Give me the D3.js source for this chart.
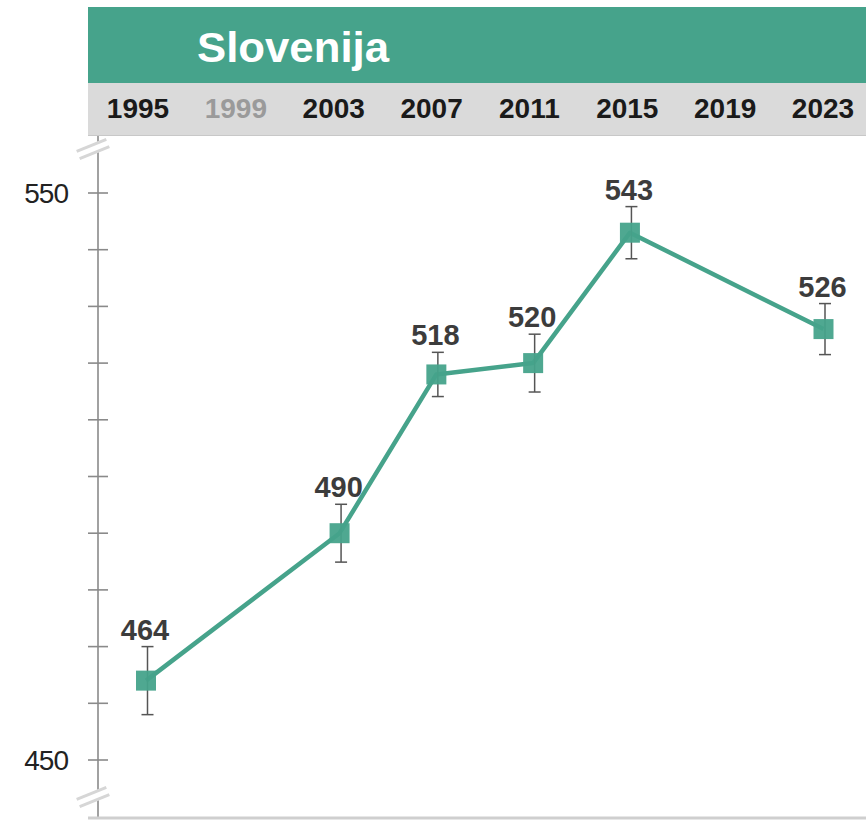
<!DOCTYPE html>
<html>
<head>
<meta charset="utf-8">
<script src="https://cdn.jsdelivr.net/npm/d3@7"></script>
<style>
  html, body { margin: 0; padding: 0; background: #fff; }
  svg { display: block; }
</style>
</head>
<body>
<script>
// ---- data ----
const title = "Slovenija";
const headerYears = [1995, 1999, 2003, 2007, 2011, 2015, 2019, 2023];
const mutedYears = [1999];
const years = [1995, 2003, 2007, 2011, 2015, 2023];
const scores = [464, 490, 518, 520, 543, 526];
const errors = [6.0, 5.1, 3.9, 5.1, 4.6, 4.5];
const yTickValues = [450, 460, 470, 480, 490, 500, 510, 520, 530, 540, 550];
const yTickLabels = [450, 550];

const W = 866, H = 820;
const green = "#46a38b";

const svg = d3.select("body").append("svg")
  .attr("width", W).attr("height", H)
  .style("font-family", "'Liberation Sans', Arial, sans-serif");

// scales
const x = d3.scaleLinear().domain([1995, 2023]).range([146, 823.5]);
const xHeader = d3.scaleLinear().domain([1995, 2023]).range([138, 823]);
const y = d3.scaleLinear().domain([450, 550]).range([760, 193]);

// header bands
svg.append("rect").attr("x", 88).attr("y", 7).attr("width", W - 88).attr("height", 76).attr("fill", green);
svg.append("rect").attr("x", 88).attr("y", 83).attr("width", W - 88).attr("height", 53).attr("fill", "#dadada");
svg.append("line").attr("x1", 88).attr("x2", W).attr("y1", 135.5).attr("y2", 135.5)
  .attr("stroke", "#c8c8c8").attr("stroke-width", 1);

svg.append("text").attr("x", 197).attr("y", 62)
  .attr("fill", "#fff").attr("font-weight", "bold").attr("font-size", 43)
  .attr("textLength", 192).attr("lengthAdjust", "spacingAndGlyphs")
  .text(title);

svg.append("g").selectAll("text").data(headerYears).join("text")
  .attr("x", d => xHeader(d)).attr("y", 118)
  .attr("text-anchor", "middle")
  .attr("font-weight", "bold").attr("font-size", 28)
  .attr("fill", d => mutedYears.includes(d) ? "#9a9a9a" : "#1a1a1a")
  .text(d => d);

// y axis
const axisG = svg.append("g").attr("transform", "translate(98,0)");
axisG.append("line").attr("x1", 0).attr("x2", 0).attr("y1", 136).attr("y2", 818)
  .attr("stroke", "#8a8a8a").attr("stroke-width", 1.6);
axisG.selectAll("line.tick").data(yTickValues).join("line").attr("class", "tick")
  .attr("x1", -10).attr("x2", 10)
  .attr("y1", d => y(d)).attr("y2", d => y(d))
  .attr("stroke", "#8a8a8a").attr("stroke-width", 1.6);
axisG.selectAll("text").data(yTickLabels).join("text")
  .attr("x", -30).attr("y", d => y(d)).attr("dy", "0.35em")
  .attr("text-anchor", "end").attr("font-size", 28).attr("fill", "#222")
  .attr("letter-spacing", -1)
  .text(d => d);

// bottom line
svg.append("line").attr("x1", 88).attr("x2", W).attr("y1", 818).attr("y2", 818)
  .attr("stroke", "#cfcfcf").attr("stroke-width", 3);

// axis break marks
function breakMark(cy) {
  const g = svg.append("g").attr("transform", `translate(93,${cy}) rotate(-22)`);
  g.append("rect").attr("x", -16).attr("y", -5).attr("width", 32).attr("height", 10)
    .attr("fill", "#fff");
  g.append("line").attr("x1", -16).attr("x2", 16).attr("y1", -4).attr("y2", -4)
    .attr("stroke", "#d6d6d6").attr("stroke-width", 3);
  g.append("line").attr("x1", -16).attr("x2", 16).attr("y1", 4).attr("y2", 4)
    .attr("stroke", "#d6d6d6").attr("stroke-width", 3);
}
breakMark(149);
breakMark(797);

const data = years.map((yr, i) => ({ year: yr, score: scores[i], err: errors[i] }));

// line
svg.append("path").datum(data)
  .attr("fill", "none").attr("stroke", green).attr("stroke-width", 4.5)
  .attr("stroke-linejoin", "round")
  .attr("d", d3.line().x(d => x(d.year)).y(d => y(d.score)));

// error bars
const eb = svg.append("g").attr("stroke", "#555").attr("stroke-width", 1.5);
data.forEach(d => {
  const cx = x(d.year) + 1.5;
  const t = y(d.score + d.err), b = y(d.score - d.err);
  eb.append("line").attr("x1", cx).attr("x2", cx).attr("y1", t).attr("y2", b);
  eb.append("line").attr("x1", cx - 6).attr("x2", cx + 6).attr("y1", t).attr("y2", t);
  eb.append("line").attr("x1", cx - 6).attr("x2", cx + 6).attr("y1", b).attr("y2", b);
});

// markers
svg.append("g").selectAll("rect").data(data).join("rect")
  .attr("x", d => x(d.year) - 10).attr("y", d => y(d.score) - 10)
  .attr("width", 20).attr("height", 20)
  .attr("fill", green).attr("opacity", 0.95);

// value labels
svg.append("g").selectAll("text").data(data).join("text")
  .attr("x", d => x(d.year) - 1).attr("y", d => y(d.score + d.err) - 7)
  .attr("text-anchor", "middle")
  .attr("font-weight", "bold").attr("font-size", 29).attr("fill", "#3c3c3c")
  .text(d => d.score);
</script>
</body>
</html>
